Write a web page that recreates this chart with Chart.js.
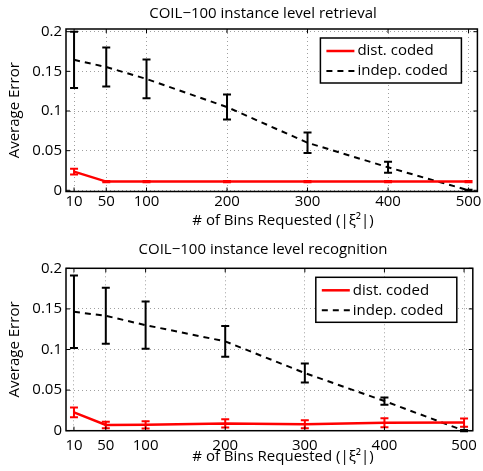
<!DOCTYPE html>
<html>
<head>
<meta charset="utf-8">
<script src="https://cdn.jsdelivr.net/npm/chart.js@4.4.1/dist/chart.umd.min.js"></script>
<style>
  html, body { margin: 0; padding: 0; background: #fff; }
  .box { position: relative; width: 483px; }
  #c1 { height: 235px; }
  #c2 { height: 236px; }
</style>
</head>
<body>
<div class="box" id="c1"><canvas id="retrieval"></canvas></div>
<div class="box" id="c2"><canvas id="recognition"></canvas></div>
<script>
const bins = [10, 50, 100, 200, 300, 400, 500];
const xTicks = [10, 50, 100, 200, 300, 400, 500];
const yTicks = [0, 0.05, 0.1, 0.15, 0.2];

// COIL-100 instance level retrieval
const retrievalDist = [0.0235, 0.011, 0.011, 0.011, 0.011, 0.011, 0.011];
const retrievalDistErr = [0.0037, 0.0008, 0.0008, 0.0008, 0.0008, 0.0008, 0.0008];
const retrievalIndep = [0.1645, 0.1555, 0.1404, 0.105, 0.06, 0.029, 0];
const retrievalIndepErr = [0.0355, 0.0245, 0.0244, 0.0157, 0.013, 0.007, 0.0008];

// COIL-100 instance level recognition
const recognitionDist = [0.0226, 0.007, 0.0072, 0.009, 0.008, 0.0098, 0.01];
const recognitionDistErr = [0.006, 0.004, 0.0045, 0.005, 0.005, 0.0055, 0.005];
const recognitionIndep = [0.1465, 0.1415, 0.13, 0.11, 0.071, 0.0365, 0];
const recognitionIndepErr = [0.0445, 0.0345, 0.029, 0.019, 0.0117, 0.0045, 0.0008];

const FONT = '"Open Sans", sans-serif';
const xTitle = '# of Bins Requested (|ξ²|)';

const errorBars = {
  id: 'errorBars',
  afterDatasetsDraw(chart) {
    const {ctx, scales: {x, y}} = chart;
    chart.data.datasets.forEach(ds => {
      if (!ds.errors) return;
      ctx.save();
      ctx.strokeStyle = ds.borderColor;
      ctx.lineWidth = 2;
      ds.data.forEach((p, j) => {
        const e = ds.errors[j];
        const px = x.getPixelForValue(p.x);
        const top = y.getPixelForValue(p.y + e);
        const bot = y.getPixelForValue(p.y - e);
        ctx.beginPath();
        ctx.moveTo(px, top); ctx.lineTo(px, bot);
        ctx.moveTo(px - 4, top); ctx.lineTo(px + 4, top);
        ctx.moveTo(px - 4, bot); ctx.lineTo(px + 4, bot);
        ctx.stroke();
      });
      ctx.restore();
    });
  }
};

// matlab style box with inward ticks, titles and legend inside the axes
const frame = {
  id: 'frame',
  afterDraw(chart, args, opts) {
    const {ctx, chartArea: a, scales: {x, y}} = chart;
    ctx.save();
    ctx.strokeStyle = '#000';
    ctx.lineWidth = 1.5;
    ctx.strokeRect(a.left, a.top, a.right - a.left, a.bottom - a.top);
    ctx.lineWidth = 1;
    ctx.beginPath();
    xTicks.forEach(t => {
      const px = x.getPixelForValue(t);
      ctx.moveTo(px, a.bottom); ctx.lineTo(px, a.bottom - 4);
      ctx.moveTo(px, a.top); ctx.lineTo(px, a.top + 4);
    });
    yTicks.forEach(t => {
      const py = y.getPixelForValue(t);
      ctx.moveTo(a.left, py); ctx.lineTo(a.left + 4, py);
      ctx.moveTo(a.right, py); ctx.lineTo(a.right - 4, py);
    });
    ctx.stroke();

    // titles
    ctx.fillStyle = '#000';
    ctx.font = '15px ' + FONT;
    ctx.textAlign = 'center';
    ctx.textBaseline = 'middle';
    ctx.fillText(opts.title, 263, opts.titleY);
    ctx.fillText(xTitle, 283, opts.xTitleY);
    ctx.save();
    ctx.translate(15, (a.top + a.bottom) / 2);
    ctx.rotate(-Math.PI / 2);
    ctx.fillText('Average Error', 0, 0);
    ctx.restore();

    // legend
    const lx = a.right - 157, ly = a.top + 9, lw = 141, lh = 45;
    ctx.fillStyle = '#fff';
    ctx.fillRect(lx, ly, lw, lh);
    ctx.strokeStyle = '#000';
    ctx.lineWidth = 1.5;
    ctx.strokeRect(lx, ly, lw, lh);
    ctx.textAlign = 'left';
    chart.data.datasets.forEach((ds, i) => {
      const ry = ly + 13 + i * 20;
      ctx.strokeStyle = ds.borderColor;
      ctx.lineWidth = ds.borderWidth;
      ctx.setLineDash(ds.borderDash || []);
      ctx.beginPath();
      ctx.moveTo(lx + 6, ry); ctx.lineTo(lx + 34, ry);
      ctx.stroke();
      ctx.setLineDash([]);
      ctx.fillStyle = '#000';
      ctx.fillText(ds.label, lx + 37, ry);
    });
    ctx.restore();
  }
};

function makeChart(id, title, dist, distErr, indep, indepErr, pad) {
  return new Chart(document.getElementById(id), {
    type: 'line',
    data: {
      datasets: [
        {
          label: 'dist. coded',
          data: bins.map((b, i) => ({x: b, y: dist[i]})),
          errors: distErr,
          borderColor: '#ff0000',
          borderWidth: 2.5,
          pointRadius: 0,
          tension: 0
        },
        {
          label: 'indep. coded',
          data: bins.map((b, i) => ({x: b, y: indep[i]})),
          errors: indepErr,
          borderColor: '#000000',
          borderWidth: 2,
          borderDash: [6, 5],
          pointRadius: 0,
          tension: 0
        }
      ]
    },
    options: {
      responsive: true,
      maintainAspectRatio: false,
      animation: false,
      clip: false,
      layout: {padding: {left: 0, right: 4, top: pad.top, bottom: 0}},
      plugins: {
        legend: {display: false},
        tooltip: {enabled: false},
        title: {display: false},
        frame: {title: title, titleY: pad.titleY, xTitleY: pad.xTitleY}
      },
      scales: {
        x: {
          type: 'linear',
          min: 0,
          max: 511,
          afterBuildTicks: s => { s.ticks = xTicks.map(v => ({value: v})); },
          afterFit: s => { s.height = pad.bottom; },
          grid: {color: '#a0a0a0', lineWidth: 1, drawTicks: false},
          border: {display: false, dash: [1, 3]},
          ticks: {color: '#000', font: {family: FONT, size: 15}, padding: pad.tickPad, maxRotation: 0}
        },
        y: {
          min: pad.ymin,
          max: pad.ymax,
          afterBuildTicks: s => { s.ticks = yTicks.map(v => ({value: v})); },
          afterFit: s => { s.width = 66; },
          grid: {color: '#a0a0a0', lineWidth: 1, drawTicks: false},
          border: {display: false, dash: [1, 3]},
          ticks: {
            color: '#000',
            font: {family: FONT, size: 15},
            padding: 4,
            callback: v => String(v)
          }
        }
      }
    },
    plugins: [errorBars, frame]
  });
}

makeChart('retrieval', 'COIL\u2212100 instance level retrieval',
  retrievalDist, retrievalDistErr, retrievalIndep, retrievalIndepErr,
  {top: 29, bottom: 43.5, tickPad: 1.5, ymin: -0.0015, ymax: 0.2034, titleY: 13.5, xTitleY: 221});
makeChart('recognition', 'COIL\u2212100 instance level recognition',
  recognitionDist, recognitionDistErr, recognitionIndep, recognitionIndepErr,
  {top: 33.3, bottom: 40.3, tickPad: 6, ymin: 0, ymax: 0.2, titleY: 15, xTitleY: 221.5});
</script>
</body>
</html>
